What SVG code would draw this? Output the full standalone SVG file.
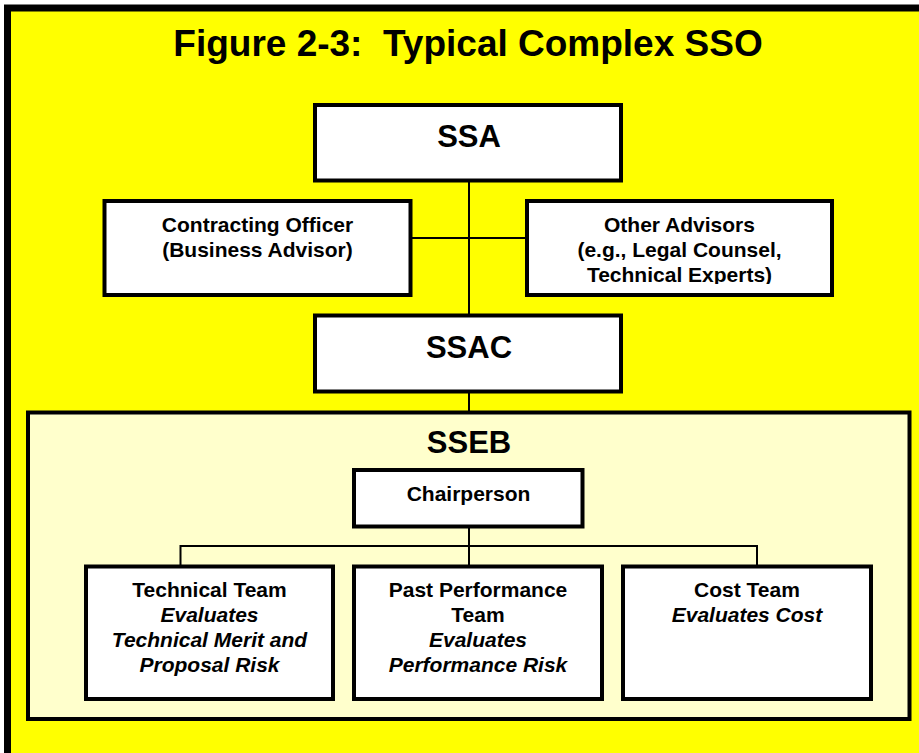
<svg xmlns="http://www.w3.org/2000/svg" width="919" height="753" viewBox="0 0 919 753">
<style>
.box{fill:#FFFFFF;stroke:#000000;stroke-width:4}
.line{stroke:#000000;stroke-width:2;fill:none}
text{font-family:"Liberation Sans",Arial,sans-serif;font-weight:bold;fill:#000000;text-anchor:middle}
.big{font-size:31px}
.sm{font-size:21px}
.it{font-style:italic}
</style>
<defs>
<clipPath id="clipOther"><rect x="527" y="201" width="305" height="83"/></clipPath>
</defs>
<rect x="0" y="0" width="919" height="753" fill="#FFFFFF"/>
<rect x="7.5" y="8" width="1000" height="1000" fill="#FFFF00" stroke="#000000" stroke-width="7"/>
<text x="468" y="56" style="font-size:37px;white-space:pre" xml:space="preserve">Figure 2-3:  Typical Complex SSO</text>
<g id="sseb">
<rect x="28" y="412.5" width="881.5" height="306.5" fill="#FFFFCC" stroke="#000000" stroke-width="4"/>
<text class="big" x="469" y="453">SSEB</text>
</g>
<g id="connectors">
<line class="line" x1="469" y1="182" x2="469" y2="315"/>
<line class="line" x1="412" y1="238" x2="525" y2="238"/>
<line class="line" x1="469" y1="393" x2="469" y2="412"/>
<line class="line" x1="469" y1="528" x2="469" y2="566"/>
<polyline class="line" points="180.5,566 180.5,546 757,546 757,566"/>
</g>
<g id="ssa">
<rect class="box" x="315" y="105" width="306" height="75.5"/>
<text class="big" x="469" y="147">SSA</text>
</g>
<g id="contracting">
<rect class="box" x="104.5" y="201" width="306" height="94"/>
<text class="sm" x="257.5" y="232">Contracting Officer</text>
<text class="sm" x="257.5" y="257">(Business Advisor)</text>
</g>
<g id="other">
<rect class="box" x="527" y="201" width="305" height="94"/>
<g clip-path="url(#clipOther)">
<text class="sm" x="679.5" y="232">Other Advisors</text>
<text class="sm" x="679.5" y="257">(e.g., Legal Counsel,</text>
<text class="sm" x="679.5" y="282">Technical Experts)</text>
</g>
</g>
<g id="ssac">
<rect class="box" x="315" y="315.5" width="306" height="76"/>
<text class="big" x="469" y="358">SSAC</text>
</g>
<g id="chair">
<rect class="box" x="354" y="470" width="228.5" height="56.5"/>
<text class="sm" x="468.5" y="501">Chairperson</text>
</g>
<g id="tech">
<rect class="box" x="86" y="566.5" width="247" height="132.5"/>
<text class="sm" x="209.5" y="597">Technical Team</text>
<text class="sm it" x="209.5" y="622">Evaluates</text>
<text class="sm it" x="209.5" y="647">Technical Merit and</text>
<text class="sm it" x="209.5" y="672">Proposal Risk</text>
</g>
<g id="past">
<rect class="box" x="354" y="566.5" width="248" height="132.5"/>
<text class="sm" x="478" y="597">Past Performance</text>
<text class="sm" x="478" y="622">Team</text>
<text class="sm it" x="478" y="647">Evaluates</text>
<text class="sm it" x="478" y="672">Performance Risk</text>
</g>
<g id="cost">
<rect class="box" x="623" y="566.5" width="248" height="132.5"/>
<text class="sm" x="747" y="597">Cost Team</text>
<text class="sm it" x="747" y="622">Evaluates Cost</text>
</g>
</svg>
